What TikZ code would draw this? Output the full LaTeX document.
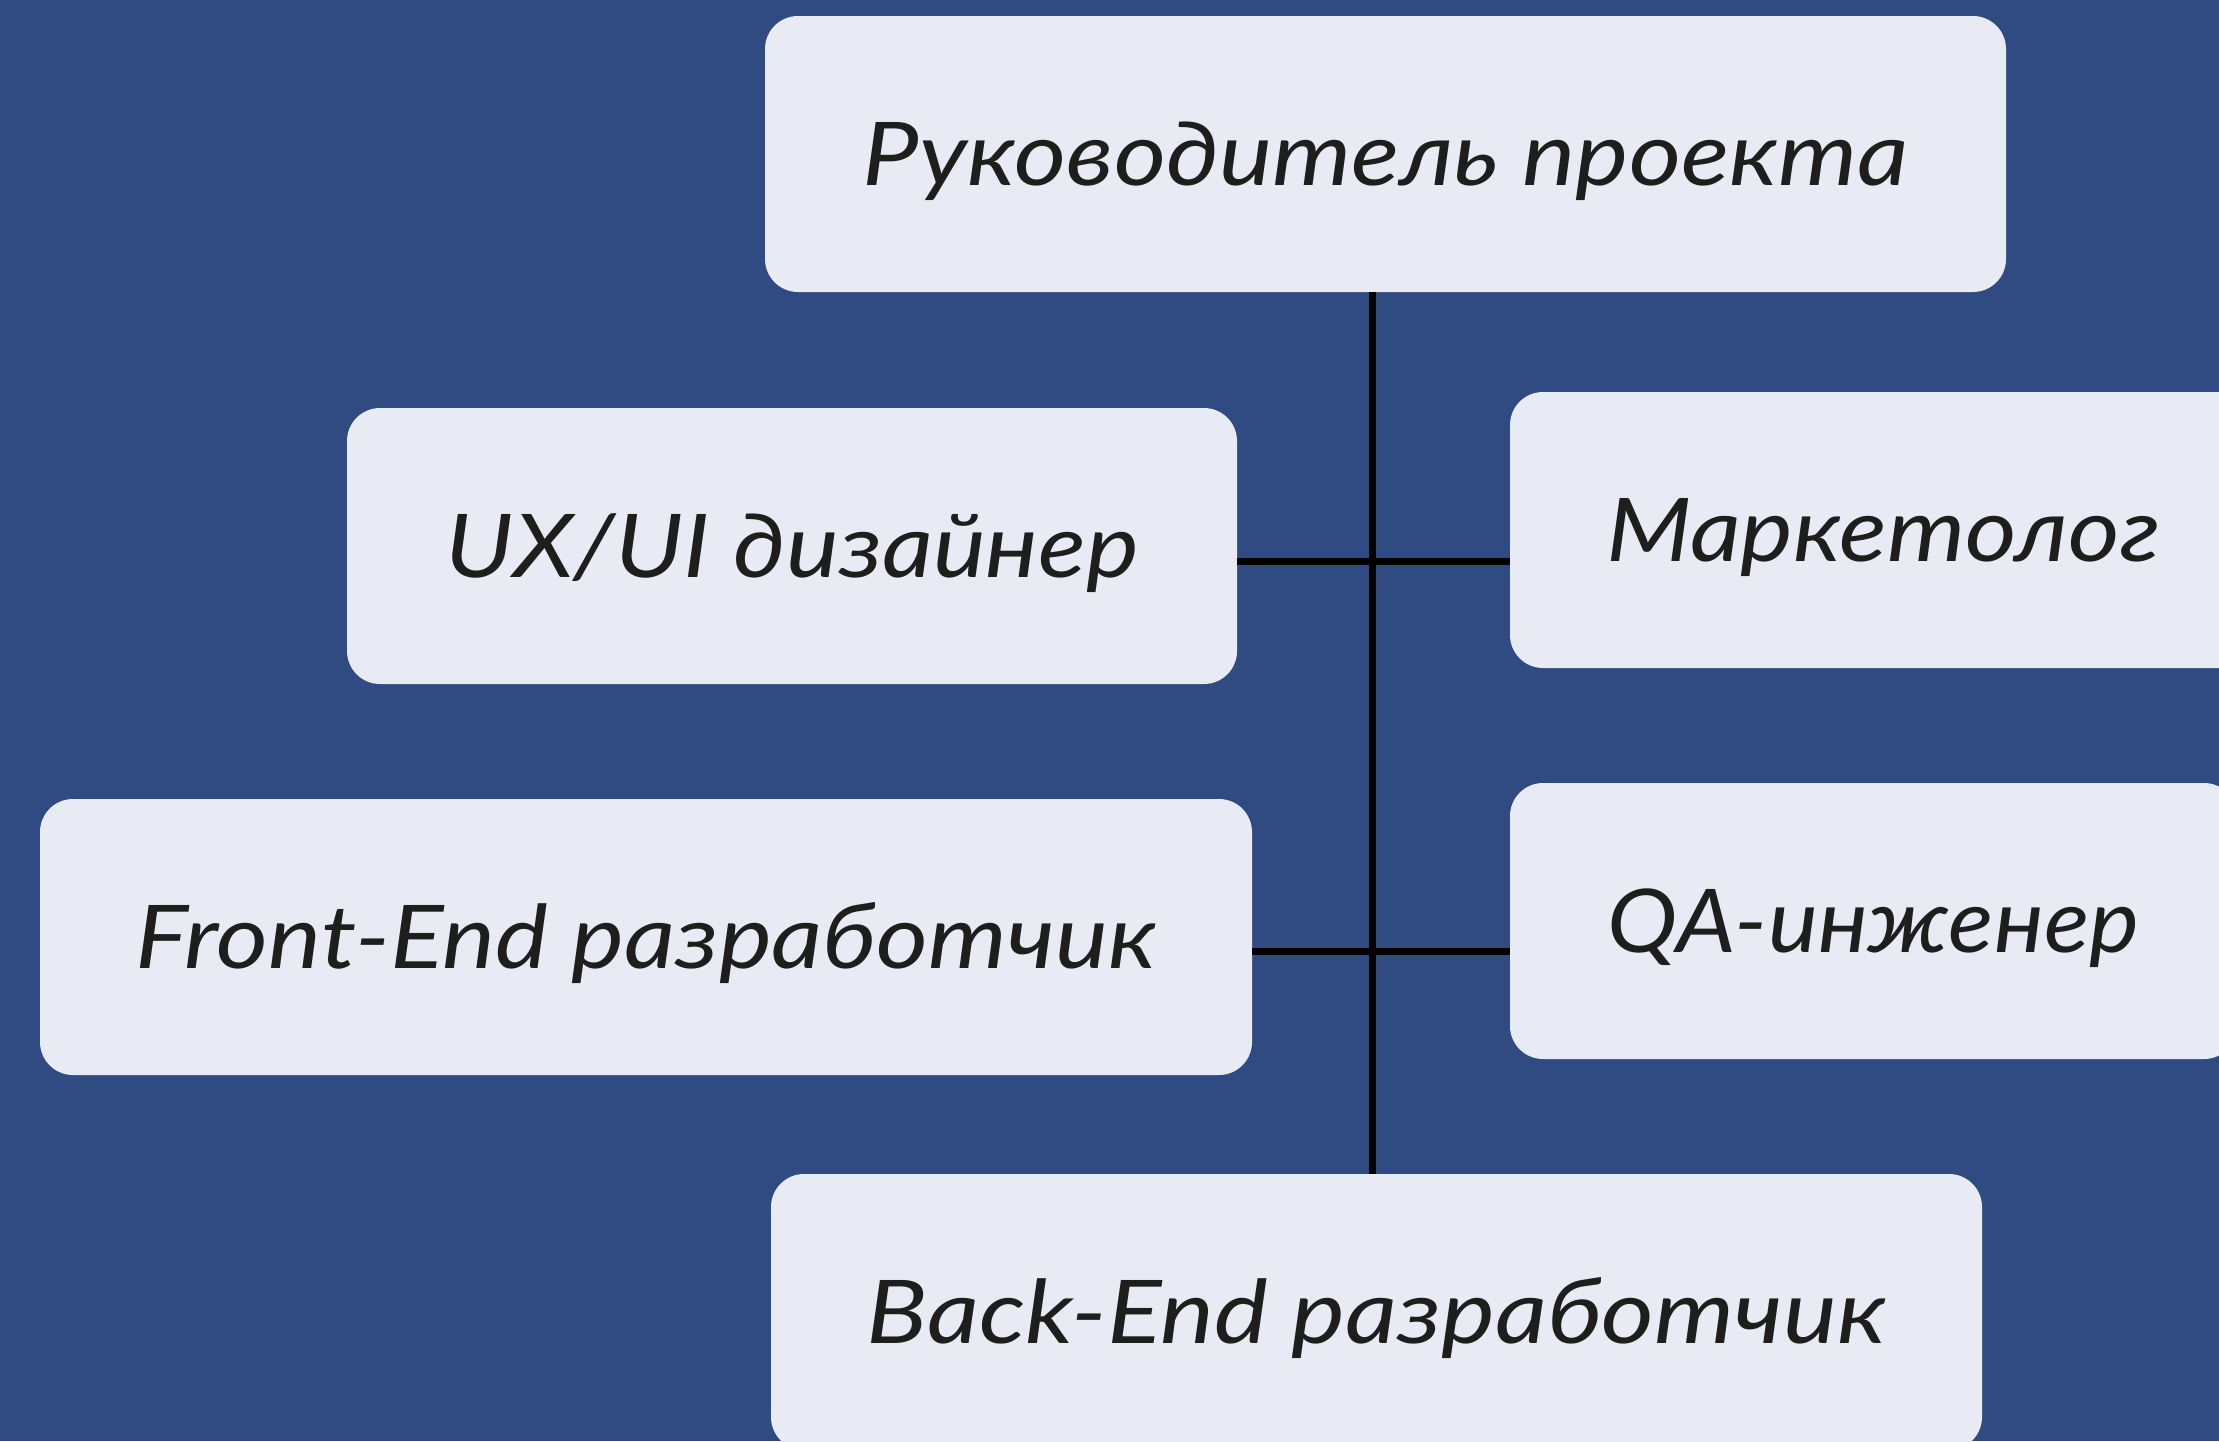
\documentclass[tikz,border=0pt]{standalone}
\usepackage{fontspec}
\setmainfont{Lato}
\usepackage{graphicx}
\definecolor{bgblue}{HTML}{2F4B81}
\definecolor{boxfill}{HTML}{E8EBF4}
\definecolor{txt}{HTML}{1E1E1C}
\newcommand\fitlbl[2]{\resizebox{#1}{\height}{#2}}
\begin{document}
\begin{tikzpicture}[x=1pt,y=-1pt,
  role/.style={rectangle, rounded corners=33pt, fill=boxfill, draw=none,
    minimum height=276pt, inner sep=0pt, text=txt,
    font=\fontsize{88}{100}\selectfont\itshape,
    text height=63pt, text depth=1pt},
  link/.style={draw=black, line width=7pt}]
\useasboundingbox (0,0) rectangle (2219,1441);
\clip (0,0) rectangle (2219,1441);
\fill[bgblue] (0,0) rectangle (2219,1441);

\node[role, minimum width=1241pt] (pm) at (1385.5,154) {\fitlbl{1045pt}{Руководитель проекта}};
\node[role, minimum width=890pt] (ux) at (792,546) {\fitlbl{694pt}{UX/UI дизайнер}};
\node[role, minimum width=746pt] (mk) at (1883,530) {\fitlbl{554pt}{Маркетолог}};
\node[role, minimum width=1212pt] (fe) at (646,937) {\fitlbl{1020pt}{Front-End разработчик}};
\node[role, minimum width=727pt] (qa) at (1873.5,921) {\fitlbl{531pt}{QA-инженер}};
\node[role, minimum width=1211pt] (be) at (1376.5,1312) {\fitlbl{1019pt}{Back-End разработчик}};

\coordinate (vx) at (1372.5,0);
\coordinate (h1) at (0,561);
\coordinate (h2) at (0,951.5);

\draw[link] (pm.south -| vx) -- (be.north -| vx);
\draw[link] (ux.east |- h1) -- (mk.west |- h1);
\draw[link] (fe.east |- h2) -- (qa.west |- h2);
\end{tikzpicture}
\end{document}
